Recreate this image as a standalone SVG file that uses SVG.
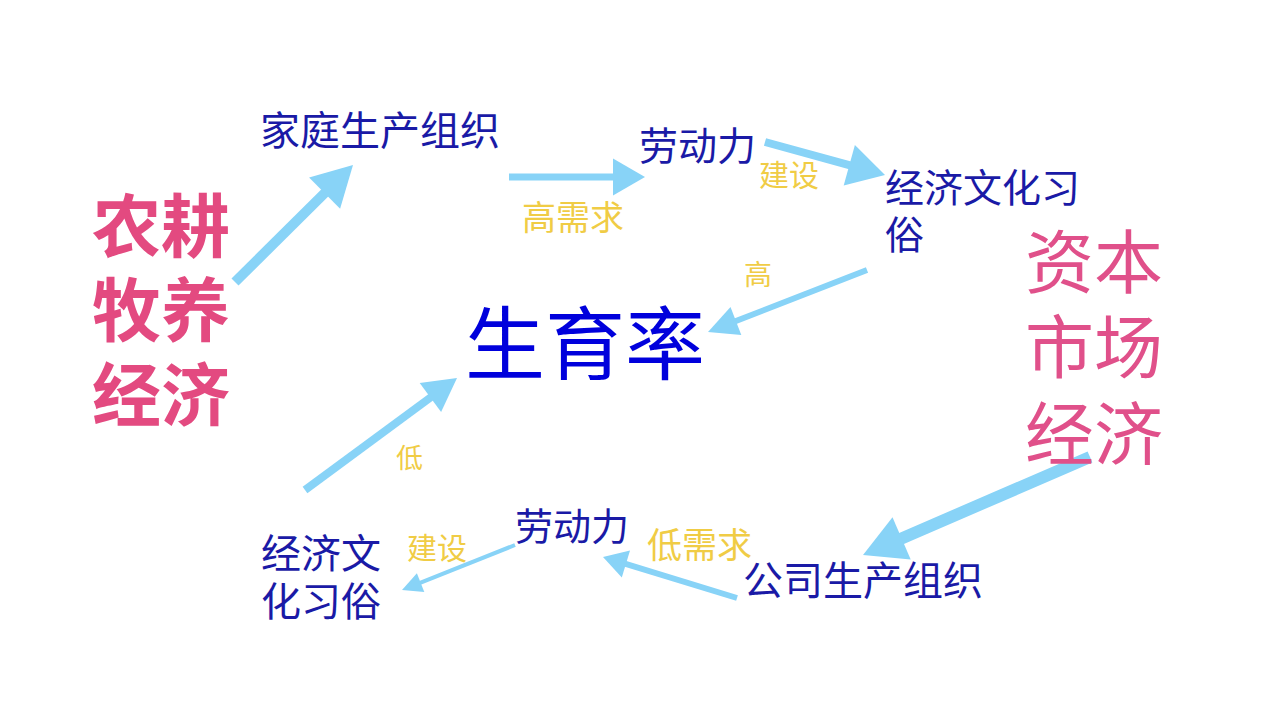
<svg xmlns="http://www.w3.org/2000/svg" width="1280" height="720" viewBox="0 0 1280 720">
<style>
text{font-family:"Noto Sans CJK SC","Noto Sans",sans-serif}
.lbl{fill:#1a1aa6}
.edge{fill:#f0cc45}
.big{fill:#e34a80}
.cap{fill:#e0508a}
.main{fill:#0000dc}
.ln{stroke:#88d3f7;fill:none;stroke-linecap:butt}
.hd{fill:#88d3f7}
</style>
<rect width="1280" height="720" fill="#ffffff"/>
<g id="connectors">
<g id="c1"><line class="ln" x1="235" y1="282" x2="326" y2="191.8" stroke-width="10"/><polygon class="hd" points="353,165 340.1,208.8 309.1,177.6"/></g>
<g id="c2"><line class="ln" x1="509" y1="177" x2="615" y2="177" stroke-width="7"/><polygon class="hd" points="645,177 613,195.5 613,158.5"/></g>
<g id="c3"><line class="ln" x1="765" y1="142" x2="851" y2="165.7" stroke-width="8"/><polygon class="hd" points="885,175 843.7,185.4 854.9,145"/></g>
<g id="c4"><line class="ln" x1="867" y1="270" x2="734" y2="321.8" stroke-width="6"/><polygon class="hd" points="708,332 730.5,307.1 741.3,335.1"/></g>
<g id="c5"><line class="ln" x1="1090" y1="457" x2="899.8" y2="539.2" stroke-width="12"/><polygon class="hd" points="863,555 892.5,517.3 910.7,559.5"/></g>
<g id="c6"><line class="ln" x1="737" y1="598" x2="624" y2="563.4" stroke-width="6"/><polygon class="hd" points="603,557 630,550.6 621.8,577.4"/></g>
<g id="c7"><line class="ln" x1="515" y1="545" x2="418.8" y2="583.3" stroke-width="4"/><polygon class="hd" points="402,590 416.9,573.3 424.3,591.9"/></g>
<g id="c8"><line class="ln" x1="305" y1="490" x2="432" y2="396.4" stroke-width="8"/><polygon class="hd" points="457,378 441.1,412.1 419.7,383.1"/></g>
</g>
<g id="edge-labels">
<text class="edge" x="522" y="230" font-size="34">高需求</text>
<text class="edge" x="759" y="186" font-size="30">建设</text>
<text class="edge" x="744" y="285" font-size="28">高</text>
<text class="edge" x="396" y="468" font-size="27">低</text>
<text class="edge" x="407" y="559" font-size="30">建设</text>
<text class="edge" x="647" y="558" font-size="35">低需求</text>
</g>
<g id="n-agri"><text class="big" font-weight="700" font-size="69" x="92"><tspan x="92" y="252">农耕</tspan><tspan x="92" y="336">牧养</tspan><tspan x="92" y="421">经济</tspan></text></g>
<g id="n-capital"><text class="cap" font-size="69" x="1025"><tspan x="1025" y="288">资本</tspan><tspan x="1025" y="373">市场</tspan><tspan x="1025" y="460">经济</tspan></text></g>
<g id="n-family"><text class="lbl" x="260" y="145" font-size="40">家庭生产组织</text></g>
<g id="n-labor-top"><text class="lbl" x="639" y="160" font-size="39">劳动力</text></g>
<g id="n-custom-top"><text class="lbl" font-size="39"><tspan x="885" y="202">经济文化习</tspan><tspan x="885" y="249">俗</tspan></text></g>
<g id="n-fertility"><text class="main" x="465" y="373" font-size="80">生育率</text></g>
<g id="n-company"><text class="lbl" x="743" y="595" font-size="40">公司生产组织</text></g>
<g id="n-labor-bottom"><text class="lbl" x="515" y="540" font-size="38">劳动力</text></g>
<g id="n-custom-bottom"><text class="lbl" font-size="40"><tspan x="261" y="568">经济文</tspan><tspan x="261" y="616">化习俗</tspan></text></g>
</svg>
